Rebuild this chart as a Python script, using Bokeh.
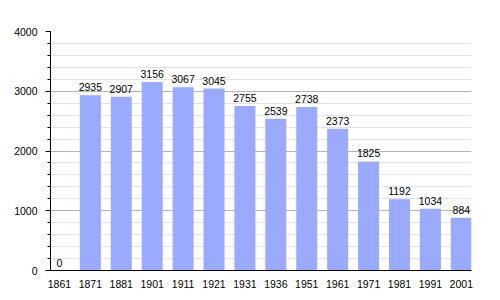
from bokeh.plotting import figure
from bokeh.models import ColumnDataSource, SingleIntervalTicker, FixedTicker, Range1d
from bokeh.core.properties import value
from bokeh.embed import file_html
from bokeh.resources import INLINE

years = ["1861", "1871", "1881", "1901", "1911", "1921", "1931", "1936",
         "1951", "1961", "1971", "1981", "1991", "2001"]
population = [0, 2935, 2907, 3156, 3067, 3045, 2755, 2539, 2738, 2373, 1825, 1192, 1034, 884]

idx = list(range(len(years)))
src = ColumnDataSource(dict(x=idx, y=population, lbl=[str(v) for v in population]))

p = figure(width=500, height=300, output_backend="svg", toolbar_location=None,
           x_range=Range1d(-0.29, 13.33), y_range=Range1d(0, 4000),
           min_border_left=50, min_border_right=29, min_border_top=31, min_border_bottom=30)
p.outline_line_color = None
p.background_fill_color = "white"
p.border_fill_color = "white"

p.vbar(x="x", top="y", width=0.68, source=src, fill_color="#99aaff", line_color=None)
p.text(x="x", y="y", text="lbl", source=src, text_align="center", text_baseline="bottom",
       y_offset=-4, text_font=value("Liberation Sans"), text_font_size="10.5px", text_color="black")

# y axis
p.yaxis.ticker = SingleIntervalTicker(interval=1000, num_minor_ticks=5)
p.yaxis.axis_line_color = "black"
p.yaxis.major_tick_line_color = "black"
p.yaxis.minor_tick_line_color = "black"
p.yaxis.major_tick_out = 5
p.yaxis.major_tick_in = 0
p.yaxis.minor_tick_out = 3
p.yaxis.minor_tick_in = 0
p.yaxis.major_label_standoff = 8
p.yaxis.major_label_text_font = "Liberation Sans"
p.yaxis.major_label_text_font_size = "10.5px"
p.yaxis.major_label_text_color = "black"

# x axis
p.xaxis.ticker = FixedTicker(ticks=idx)
p.xaxis.major_label_overrides = {i: y for i, y in zip(idx, years)}
p.xaxis.axis_line_color = "black"
p.xaxis.major_tick_line_color = None
p.xaxis.minor_tick_line_color = None
p.xaxis.major_label_standoff = 3
p.xaxis.major_label_text_font = "Liberation Sans"
p.xaxis.major_label_text_font_size = "10.5px"
p.xaxis.major_label_text_color = "black"

p.xgrid.grid_line_color = None
p.ygrid.grid_line_color = "#b4b4b4"
p.ygrid.minor_grid_line_color = "#e2e2e2"

open("out.html", "w").write(file_html(p, INLINE))
